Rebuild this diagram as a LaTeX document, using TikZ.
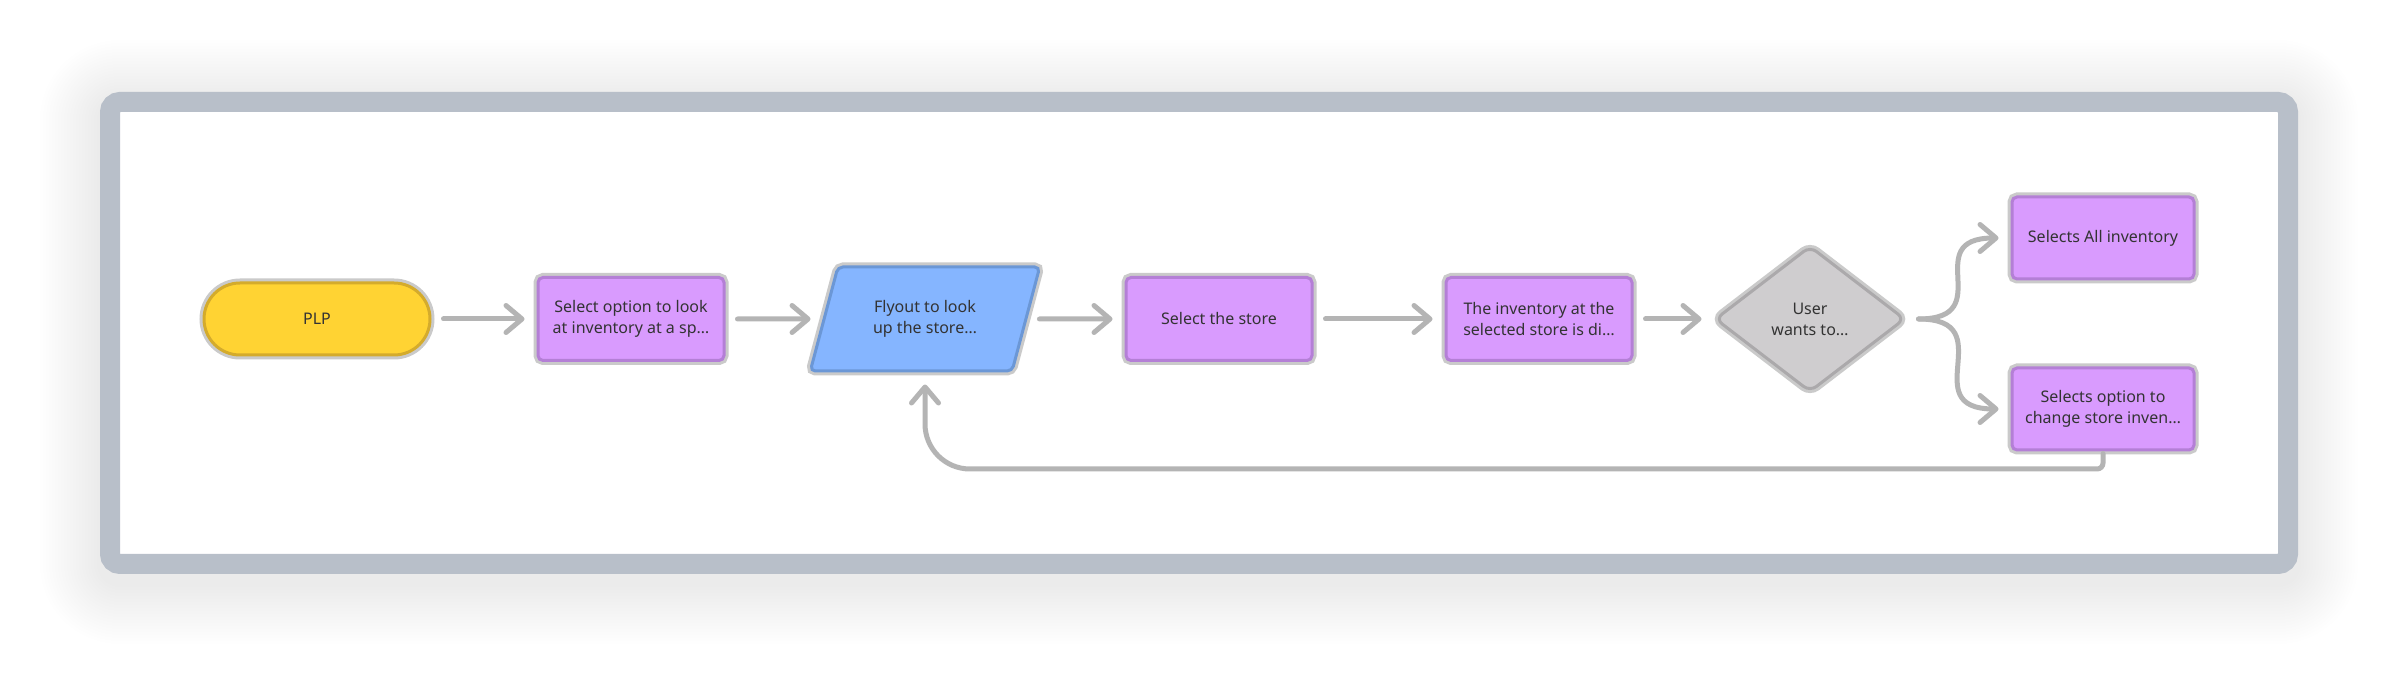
\documentclass[tikz,border=0pt]{standalone}
\usepackage{fontspec}
\setmainfont{Noto Sans}
\usetikzlibrary{shapes.geometric,arrows.meta}

\definecolor{framegray}{HTML}{B8BFC9}
\definecolor{halogray}{HTML}{CACACA}
\definecolor{arrowgray}{HTML}{B4B4B4}
\definecolor{textgray}{HTML}{333333}
\definecolor{plpfill}{HTML}{FFD333}
\definecolor{plpline}{HTML}{D4AB2C}
\definecolor{stepfill}{HTML}{D99BFE}
\definecolor{stepline}{HTML}{B47FD6}
\definecolor{flyfill}{HTML}{85B5FF}
\definecolor{flyline}{HTML}{6B97D6}
\definecolor{askfill}{HTML}{CFCDCF}
\definecolor{askline}{HTML}{ABA9AB}

\tikzset{
	halo/.style={preaction={draw=halogray, line width=4.5pt}},
	terminal/.style={halo, rectangle, rounded corners=18pt, fill=plpfill, draw=plpline, minimum width=113pt, minimum height=36pt},
	stepbox/.style={halo, rectangle, rounded corners=2.5pt, fill=stepfill, draw=stepline, minimum width=93pt, minimum height=41.5pt},
	choicebox/.style={stepbox, minimum width=91pt, minimum height=41pt},
	flyout/.style={halo, trapezium, trapezium left angle=66, trapezium right angle=114, trapezium stretches=true, rounded corners=2.5pt, fill=flyfill, draw=flyline, minimum width=115pt, minimum height=52pt},
	ask/.style={halo, diamond, rounded corners=4pt, fill=askfill, draw=askline, minimum width=95pt, minimum height=73pt},
	link/.style={draw=arrowgray, line width=2.5pt, line cap=round, shorten <=6pt, shorten >=6pt}
}

\begin{document}
\begin{tikzpicture}[x=0.5pt, y=-0.5pt, >={Straight Barb[round, length=8pt, width=13.5pt]},
	every node/.style={inner sep=0pt, line width=1.5pt, align=center, text=textgray, font=\fontsize{8}{10.5}\selectfont},
	every edge/.style={link, ->}]
			\useasboundingbox (0,0) rectangle (2398,683);
			\fill[white] (0,0) rectangle (2398,683);
			\foreach \s in {3,6,...,60}
				\fill[black, opacity=0.0022, rounded corners=10pt+\s*0.5pt] (100-\s,100-\s) rectangle (2298+\s,584+\s);
			\fill[white] (110,102) rectangle (2288,564);
			\draw[framegray, line width=10pt, rounded corners=5pt] (110,102) rectangle (2288,564);

			\node[terminal] (plp) at (317,319){PLP};
			\node[stepbox] (opt) at (631,319){Select option to look\\at inventory at a sp…};
			\node[flyout] (fly) at (925,319){Flyout to look\\up the store…};
			\node[stepbox] (sel) at (1219,319){Select the store};
			\node[stepbox] (inv) at (1539,319){The inventory at the\\selected store is di…};
			\node[ask] (usr) at (1810,319){User\\wants to…};
			\node[choicebox] (all) at (2103,238){Selects All inventory};
			\node[choicebox] (chg) at (2103,409){Selects option to\\change store inven…};
			\coordinate (back) at (2103,469);

			\path (plp) edge (opt);
			\path (opt) edge (fly);
			\path (fly) edge (sel);
			\path (sel) edge (inv);
			\path (inv) edge (usr);
			\path (usr.east) edge[out=0, in=180, looseness=1.8] (all.west);
			\path (usr.east) edge[out=0, in=180, looseness=1.8] (chg.west);
			\draw[link, ->, shorten <=1pt] (chg.south) [rounded corners=3pt] -- (back) [rounded corners=22.5pt] -| (fly.south);
			\end{tikzpicture}
\end{document}
